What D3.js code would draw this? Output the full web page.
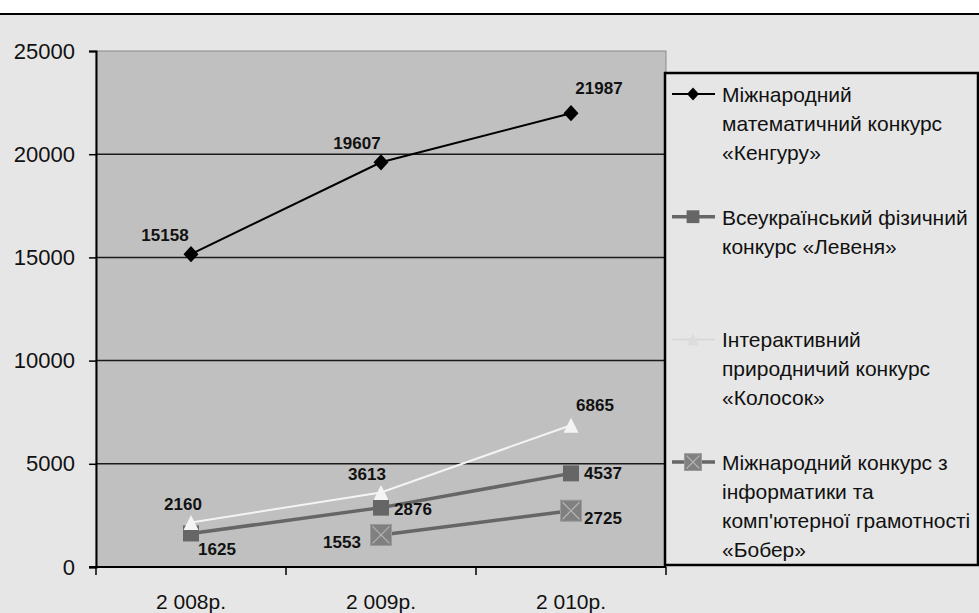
<!DOCTYPE html>
<html>
<head>
<meta charset="utf-8">
<script src="https://cdn.jsdelivr.net/npm/d3@7"></script>
<style>
  html, body { margin: 0; padding: 0; background: #ffffff; }
  svg { display: block; }
</style>
</head>
<body>
<svg id="chart" width="979" height="613"></svg>
<script>
// categories and series values
const years = ['2 008р.', '2 009р.', '2 010р.'];
const kenguru = [15158, 19607, 21987];
const levenya = [1625, 2876, 4537];
const kolosok = [2160, 3613, 6865];
const bober = [null, 1553, 2725];
const yTicks = [0, 5000, 10000, 15000, 20000, 25000];

const seriesNames = [
    ['Міжнародний', 'математичний конкурс', '«Кенгуру»'],
    ['Всеукраїнський фізичний', 'конкурс «Левеня»'],
    ['Інтерактивний', 'природничий конкурс', '«Колосок»'],
    ['Міжнародний конкурс з', 'інформатики та', 'комп\'ютерної грамотності', '«Бобер»'],
];

// look of each series (marker kind, colours), data label offsets per point
const styles = [
    { values: kenguru, line: '#000000', width: 2, marker: 'diamond', fill: '#000000', legendLine: '#000000',
      labels: [[-26, -19], [-24, -19], [28, -25]] },
    { values: levenya, line: '#666666', width: 3.5, marker: 'square', fill: '#666666', legendLine: '#666666',
      labels: [[26, 16], [32, 2], [32, 0]] },
    { values: kolosok, line: '#f4f4f4', width: 2, marker: 'triangle', fill: '#f4f4f4', legendLine: '#d8d8d8',
      labels: [[-8, -18], [-14, -18], [24, -20]] },
    { values: bober, line: '#666666', width: 3.5, marker: 'xsquare', fill: '#808080', legendLine: '#666666',
      labels: [null, [-39, 8], [32, 8]] },
];

const W = 979, H = 613;
const plot = { left: 96, right: 666, top: 51, bottom: 567 };

const svg = d3.select('#chart');

// page background and top rule
svg.append('rect').attr('x', 0).attr('y', 0).attr('width', W).attr('height', H).attr('fill', '#ffffff');
svg.append('rect').attr('x', 0).attr('y', 14).attr('width', W).attr('height', H - 14).attr('fill', '#e6e6e6');
svg.append('line').attr('x1', 0).attr('x2', W).attr('y1', 14).attr('y2', 14)
    .attr('stroke', '#000').attr('stroke-width', 2);

var x = d3.scaleBand().domain(years).range([plot.left, plot.right]).padding(0);
var y = d3.scaleLinear().domain([0, 25000]).range([plot.bottom, plot.top]);
const cx = (i) => x(years[i]) + x.bandwidth() / 2;

// plot area
svg.append('rect')
    .attr('x', plot.left).attr('y', plot.top)
    .attr('width', plot.right - plot.left).attr('height', plot.bottom - plot.top)
    .attr('fill', '#c0c0c0').attr('stroke', '#8a8a8a').attr('stroke-width', 1);

// gridlines
svg.append('g').selectAll('line')
    .data(yTicks.filter(t => t > 0 && t < 25000)).enter()
    .append('line')
    .attr('x1', plot.left).attr('x2', plot.right)
    .attr('y1', d => y(d)).attr('y2', d => y(d))
    .attr('stroke', '#1a1a1a').attr('stroke-width', 1.5);

// y axis
const yAxis = svg.append('g')
    .attr('transform', `translate(${plot.left},0)`)
    .call(d3.axisLeft(y).tickValues(yTicks).tickSize(7).tickPadding(14).tickFormat(d3.format('d')));
yAxis.select('.domain').attr('stroke', '#000').attr('stroke-width', 2);
yAxis.selectAll('.tick line').attr('stroke', '#000').attr('stroke-width', 1.5);
yAxis.selectAll('.tick text')
    .attr('fill', '#111')
    .style('font-family', '"Liberation Sans", Arial, sans-serif')
    .style('font-size', '22px');

// x axis: base line, ticks at category boundaries, labels under centres
svg.append('line')
    .attr('x1', plot.left - 7).attr('x2', plot.right)
    .attr('y1', plot.bottom).attr('y2', plot.bottom)
    .attr('stroke', '#000').attr('stroke-width', 2);
const bounds = years.map(c => x(c)).concat([plot.right]);
svg.append('g').selectAll('line').data(bounds).enter()
    .append('line')
    .attr('x1', d => d).attr('x2', d => d)
    .attr('y1', plot.bottom).attr('y2', plot.bottom + 8)
    .attr('stroke', '#000').attr('stroke-width', 1.5);
svg.append('g').selectAll('text').data(years).enter()
    .append('text')
    .attr('x', (d, i) => cx(i)).attr('y', 609)
    .attr('text-anchor', 'middle')
    .attr('fill', '#111')
    .style('font-family', '"Liberation Sans", Arial, sans-serif')
    .style('font-size', '21px')
    .text(d => d);

// marker drawing
function drawMarker(g, kind, fill, size) {
    const s = size / 2;
    if (kind === 'diamond') {
        g.append('path').attr('d', `M0,${-s * 1.08}L${s},0L0,${s * 1.08}L${-s},0Z`)
            .attr('fill', fill);
    } else if (kind === 'square') {
        g.append('rect').attr('x', -s).attr('y', -s).attr('width', size).attr('height', size)
            .attr('fill', fill);
    } else if (kind === 'triangle') {
        g.append('path').attr('d', `M0,${-s}L${s},${s}L${-s},${s}Z`)
            .attr('fill', fill);
    } else if (kind === 'xsquare') {
        g.append('rect').attr('x', -s).attr('y', -s).attr('width', size).attr('height', size)
            .attr('fill', fill).attr('stroke', '#9a9a9a').attr('stroke-width', 1);
        g.append('path').attr('d', `M${-s + 2},${-s + 2}L${s - 2},${s - 2}M${s - 2},${-s + 2}L${-s + 2},${s - 2}`)
            .attr('stroke', '#b4b4b4').attr('stroke-width', 1.2);
    }
}
const markerSize = { diamond: 15, square: 16, triangle: 15, xsquare: 21 };

// lines and markers
const lineGen = d3.line()
    .defined(d => d.v != null)
    .x(d => cx(d.i))
    .y(d => y(d.v));

styles.forEach(function (s) {
    const pts = s.values.map((v, i) => ({ v: v, i: i }));
    svg.append('path').datum(pts)
        .attr('d', lineGen)
        .attr('fill', 'none')
        .attr('stroke', s.line)
        .attr('stroke-width', s.width);
});

styles.forEach(function (s) {
    s.values.forEach(function (v, i) {
        if (v == null) return;
        const g = svg.append('g').attr('transform', `translate(${cx(i)},${y(v)})`);
        drawMarker(g, s.marker, s.fill, markerSize[s.marker]);
    });
});

// data labels
styles.forEach(function (s) {
    s.values.forEach(function (v, i) {
        if (v == null) return;
        const off = s.labels[i];
        svg.append('text')
            .attr('x', cx(i) + off[0]).attr('y', y(v) + off[1])
            .attr('text-anchor', 'middle')
            .attr('dominant-baseline', 'central')
            .attr('fill', '#111')
            .style('font-family', '"Liberation Sans", Arial, sans-serif')
            .style('font-size', '17px')
            .style('font-weight', 'bold')
            .text(v);
    });
});

// legend
const legend = { left: 665, top: 73, right: 978, bottom: 565 };
svg.append('rect')
    .attr('x', legend.left).attr('y', legend.top)
    .attr('width', legend.right - legend.left).attr('height', legend.bottom - legend.top)
    .attr('fill', '#e6e6e6').attr('stroke', '#000').attr('stroke-width', 2.5);

const entryStep = 122.7, firstBaseline = 102, lineStep = 29;
seriesNames.forEach(function (lines, k) {
    const s = styles[k];
    const base = firstBaseline + k * entryStep;
    const my = base - 8;
    const g = svg.append('g');
    g.append('line').attr('x1', 672).attr('x2', 715).attr('y1', my).attr('y2', my)
        .attr('stroke', s.legendLine).attr('stroke-width', s.width);
    const mg = g.append('g').attr('transform', `translate(693,${my})`);
    const legendFill = s.marker === 'triangle' ? '#dcdcdc' : s.fill;
    drawMarker(mg, s.marker, legendFill, markerSize[s.marker] * 0.8);
    lines.forEach(function (t, j) {
        g.append('text')
            .attr('x', 722).attr('y', base + j * lineStep)
            .attr('fill', '#111')
            .style('font-family', '"Liberation Sans", Arial, sans-serif')
            .style('font-size', '21px')
            .text(t);
    });
});
</script>
</body>
</html>
